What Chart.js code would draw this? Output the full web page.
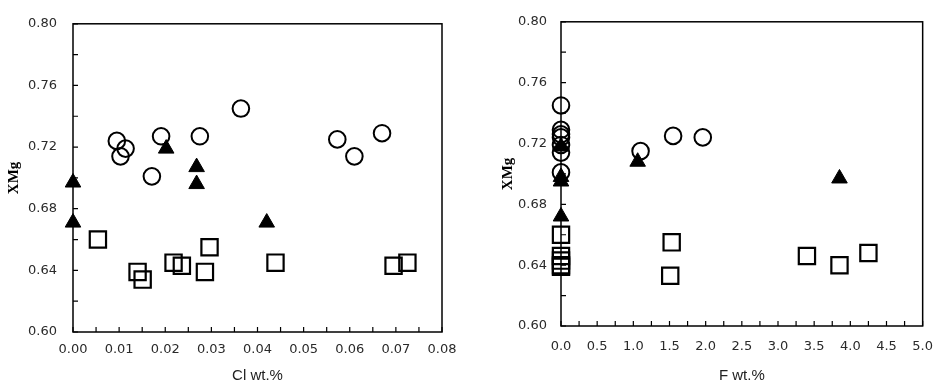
<!DOCTYPE html>
<html>
<head>
<meta charset="utf-8">
<script src="https://cdn.jsdelivr.net/npm/chart.js@4.4.1/dist/chart.umd.min.js"></script>
<style>
  html, body { margin: 0; padding: 0; background: #fff; }
  #wrap { position: relative; width: 946px; height: 388px; overflow: hidden; }
  canvas { position: absolute; top: 0; }
</style>
</head>
<body>
<div id="wrap">
  <canvas id="cl" width="470" height="388" style="left:0"></canvas>
  <canvas id="f" width="476" height="388" style="left:470px"></canvas>
</div>
<script>
// ---------- Left panel: XMg vs Cl wt.% ----------
const clCircleX = [0.0095, 0.0103, 0.0114, 0.0171, 0.0191, 0.0275, 0.0364, 0.0573, 0.0610, 0.0670];
const clCircleY = [0.724, 0.714, 0.719, 0.701, 0.727, 0.727, 0.745, 0.725, 0.714, 0.729];
const clTriX = [0.0, 0.0202, 0.0268, 0.0268, 0.0, 0.0420];
const clTriY = [0.697, 0.719, 0.707, 0.696, 0.671, 0.671];
const clSquareX = [0.0054, 0.0140, 0.0151, 0.0218, 0.0236, 0.0296, 0.0286, 0.0439, 0.0695, 0.0725];
const clSquareY = [0.660, 0.639, 0.634, 0.645, 0.643, 0.655, 0.639, 0.645, 0.643, 0.645];

// ---------- Right panel: XMg vs F wt.% ----------
const fCircleX = [0, 0, 0, 0, 0, 0, 0, 1.10, 1.55, 1.96];
const fCircleY = [0.745, 0.729, 0.726, 0.724, 0.719, 0.714, 0.701, 0.715, 0.725, 0.724];
const fTriX = [0, 0, 0, 0, 1.06, 3.85];
const fTriY = [0.718, 0.698, 0.695, 0.672, 0.708, 0.697];
const fSquareX = [0, 0, 0, 0, 0, 1.53, 1.51, 3.40, 3.85, 4.25];
const fSquareY = [0.660, 0.646, 0.643, 0.640, 0.639, 0.655, 0.633, 0.646, 0.640, 0.648];

// ---------- Axis settings ----------
const yMin = 0.60, yMax = 0.80, yStep = 0.02, yLabelEvery = 0.04;
const clXMin = 0, clXMax = 0.08, clXStep = 0.005, clXLabelEvery = 0.01;
const fXMin = 0, fXMax = 5.0, fXStep = 0.25, fXLabelEvery = 0.5;
const yTitle = 'XMg';
const clTitle = 'Cl wt.%';
const fTitle = 'F wt.%';

function pts(xs, ys) { return xs.map((x, i) => ({ x: x, y: ys[i] })); }
function isMultiple(v, step) { const r = v / step; return Math.abs(r - Math.round(r)) < 1e-6; }

const frame = {
  id: 'frame',
  beforeDatasetsDraw(chart) {
    const { ctx, chartArea: a, scales } = chart;
    ctx.save();
    ctx.strokeStyle = '#000';
    ctx.lineWidth = 1.5;
    ctx.strokeRect(a.left, a.top, a.right - a.left, a.bottom - a.top);
    ctx.lineWidth = 1.2;
    ctx.beginPath();
    scales.x.ticks.forEach(t => {
      const px = scales.x.getPixelForValue(t.value);
      ctx.moveTo(px, a.bottom); ctx.lineTo(px, a.bottom - 5);
    });
    scales.y.ticks.forEach(t => {
      const py = scales.y.getPixelForValue(t.value);
      ctx.moveTo(a.left, py); ctx.lineTo(a.left + 5, py);
    });
    ctx.stroke();
    ctx.restore();
  }
};

function makeChart(id, cfg) {
  const tickFont = { family: "'DejaVu Sans', sans-serif", size: 13 };
  return new Chart(document.getElementById(id), {
    type: 'scatter',
    data: {
      datasets: [
        { data: pts(cfg.triX, cfg.triY), pointStyle: 'triangle', pointRadius: 9, clip: false,
          backgroundColor: '#000', borderColor: '#000', borderWidth: 1 },
        { data: pts(cfg.circX, cfg.circY), pointStyle: 'circle', pointRadius: 8.3, clip: false,
          backgroundColor: 'rgba(0,0,0,0)', borderColor: '#000', borderWidth: 2 },
        { data: pts(cfg.sqX, cfg.sqY), pointStyle: 'rect', pointRadius: 11.5, clip: false,
          backgroundColor: 'rgba(0,0,0,0)', borderColor: '#000', borderWidth: 2.2 }
      ]
    },
    options: {
      responsive: false,
      animation: false,
      devicePixelRatio: 1,
      layout: { padding: { top: cfg.padTop, right: cfg.padRight, left: 3, bottom: 0 } },
      plugins: { legend: { display: false }, tooltip: { enabled: false } },
      elements: { point: { hoverRadius: 8 } },
      scales: {
        x: {
          type: 'linear', min: cfg.xMin, max: cfg.xMax,
          grid: { display: false, drawTicks: false },
          border: { display: false },
          afterBuildTicks(s) {
            const t = [];
            for (let v = cfg.xMin; v <= cfg.xMax + 1e-9; v += cfg.xStep) t.push({ value: +v.toFixed(6) });
            s.ticks = t;
          },
          ticks: {
            autoSkip: false, maxRotation: 0, padding: cfg.xTickPad, color: '#2a2a2a', font: tickFont,
            callback: v => isMultiple(v, cfg.xLabelEvery) ? v.toFixed(cfg.xDec) : ''
          },
          title: { display: true, text: cfg.xTitle, color: '#222', padding: { top: 0, bottom: cfg.xTitlePadBottom },
                   font: { family: "'Liberation Sans', Arial, sans-serif", size: 15 } },
          afterFit(s) { s.height = cfg.xAxisH; }
        },
        y: {
          type: 'linear', min: yMin, max: yMax,
          grid: { display: false, drawTicks: false },
          border: { display: false },
          afterBuildTicks(s) {
            const t = [];
            for (let v = yMin; v <= yMax + 1e-9; v += yStep) t.push({ value: +v.toFixed(6) });
            s.ticks = t;
          },
          ticks: {
            autoSkip: false, padding: cfg.yTickPad, color: '#2a2a2a', font: tickFont,
            callback: v => isMultiple(v, yLabelEvery) ? v.toFixed(2) : ''
          },
          title: { display: true, text: yTitle, color: '#000', padding: { top: cfg.yTitlePad, bottom: 0 },
                   font: { family: "'Liberation Serif', 'Times New Roman', serif", size: 15, weight: 'bold' } },
          afterFit(s) { s.width = cfg.yAxisW; }
        }
      }
    },
    plugins: [frame]
  });
}

makeChart('cl', {
  circX: clCircleX, circY: clCircleY, triX: clTriX, triY: clTriY, sqX: clSquareX, sqY: clSquareY,
  xMin: clXMin, xMax: clXMax, xStep: clXStep, xLabelEvery: clXLabelEvery, xDec: 2, xTitle: clTitle,
  padTop: 15, padRight: 28, yAxisW: 70, xAxisH: 56, yTickPad: 16, xTickPad: 10, xTitlePadBottom: 3, yTitlePad: 2
});
makeChart('f', {
  circX: fCircleX, circY: fCircleY, triX: fTriX, triY: fTriY, sqX: fSquareX, sqY: fSquareY,
  xMin: fXMin, xMax: fXMax, xStep: fXStep, xLabelEvery: fXLabelEvery, xDec: 1, xTitle: fTitle,
  padTop: 12, padRight: 13, yAxisW: 88, xAxisH: 62, yTickPad: 14, xTickPad: 13, xTitlePadBottom: 3, yTitlePad: 26
});
</script>
</body>
</html>
